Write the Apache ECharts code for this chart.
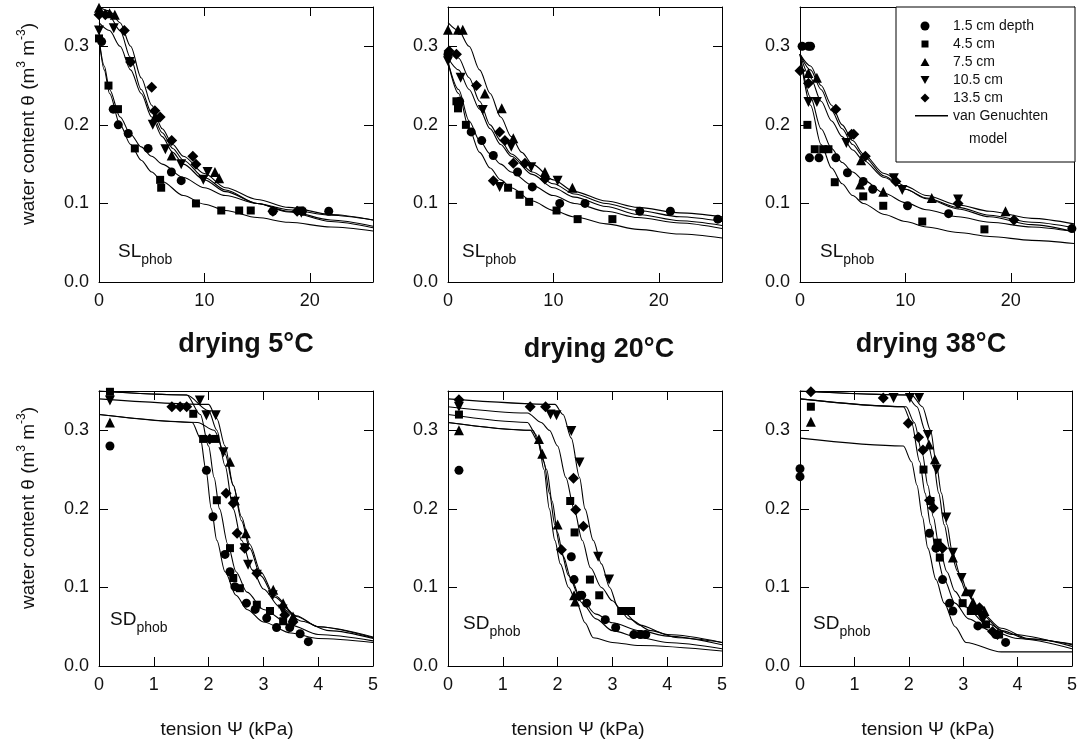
<!DOCTYPE html>
<html lang="en">
<head>
<meta charset="UTF-8">
<title>water retention curves</title>
<style>
  html, body { margin: 0; padding: 0; background: #fff; }
  #main { width: 1080px; height: 749px; }
</style>
</head>
<body>
<div id="main"></div>
<script src="https://cdn.jsdelivr.net/npm/echarts@6.0.0/dist/echarts.min.js"></script>
<script>
// depth classes, same order in every panel: circle, square, triangle, down-triangle, diamond
const depths = ['1.5 cm depth', '4.5 cm', '7.5 cm', '10.5 cm', '13.5 cm'];
const fitName = 'van Genuchten';
const titles = ['drying 5°C', 'drying 20°C', 'drying 38°C'];

// ---- SL phob, tension 0..26 kPa ----
const slPts5 = [
  [[0.25,0.306],[1.35,0.22],[1.83,0.20],[2.77,0.189],[4.66,0.17],[6.87,0.14],[7.8,0.129],[16.5,0.09],[19.3,0.09],[21.8,0.09]],
  [[0,0.31],[0.9,0.25],[1.8,0.22],[3.4,0.17],[5.8,0.13],[5.9,0.12],[9.2,0.10],[11.6,0.091],[13.3,0.091],[14.4,0.091],[19.1,0.091]],
  [[0,0.349],[1.0,0.342],[1.5,0.34],[5.3,0.21],[6.9,0.161],[11.0,0.14],[11.4,0.132]],
  [[0,0.32],[1.4,0.323],[2.9,0.28],[5.1,0.2],[6.3,0.169],[7.8,0.15],[9.9,0.13],[10.3,0.14],[19.2,0.088]],
  [[0,0.34],[0.6,0.34],[2.4,0.32],[3.0,0.28],[5.0,0.248],[5.3,0.218],[5.8,0.21],[6.9,0.18],[8.9,0.16],[9.2,0.15],[16.5,0.09],[18.8,0.09]]
];
const slFit5 = [
  [[0,0.35],[1,0.345],[2,0.33],[3,0.30],[4,0.26],[5,0.225],[6,0.195],[7,0.175],[8,0.16],[10,0.138],[12,0.12],[15,0.105],[18,0.095],[22,0.086],[26,0.079]],
  [[0,0.34],[1,0.338],[2,0.32],[3,0.285],[4,0.245],[5,0.215],[6,0.19],[7,0.17],[8,0.155],[10,0.133],[12,0.117],[15,0.1],[18,0.09],[22,0.079],[26,0.071]],
  [[0,0.33],[1,0.32],[2,0.30],[3,0.27],[4,0.24],[5,0.21],[6,0.185],[7,0.165],[8,0.15],[10,0.13],[12,0.115],[15,0.1],[18,0.089],[22,0.077],[26,0.069]],
  [[0,0.31],[0.5,0.275],[1,0.245],[2,0.21],[3,0.188],[4,0.172],[5,0.16],[6,0.15],[8,0.133],[10,0.12],[12,0.11],[15,0.1],[18,0.092],[22,0.085],[26,0.079]],
  [[0,0.31],[0.5,0.27],[1,0.24],[2,0.2],[3,0.175],[4,0.155],[5,0.14],[6,0.128],[8,0.11],[10,0.099],[12,0.091],[15,0.082],[18,0.076],[22,0.07],[26,0.065]]
];

const slPts20 = [
  [[0,0.29],[1.1,0.23],[2.2,0.191],[3.2,0.18],[4.3,0.161],[6.6,0.14],[8.0,0.121],[10.6,0.1],[13.0,0.1],[18.2,0.09],[21.1,0.09],[25.6,0.08]],
  [[0.8,0.23],[0.95,0.221],[1.7,0.2],[5.7,0.12],[6.8,0.111],[7.7,0.102],[10.3,0.091],[12.3,0.08],[15.6,0.08]],
  [[0,0.321],[0.95,0.321],[1.4,0.321],[3.5,0.24],[5.1,0.221],[6.2,0.183],[9.2,0.14],[11.8,0.12]],
  [[0,0.281],[1.2,0.26],[3.3,0.219],[4.9,0.121],[6.0,0.172],[7.9,0.146],[10.4,0.129]],
  [[0.1,0.294],[0.8,0.29],[2.7,0.25],[4.3,0.129],[4.9,0.191],[5.4,0.18],[6.2,0.151],[7.3,0.151],[9.2,0.131]]
];
const slFit20 = [
  [[0,0.33],[1,0.32],[2,0.3],[3,0.27],[4,0.24],[5,0.21],[6,0.185],[7,0.165],[8,0.15],[10,0.13],[12,0.115],[15,0.103],[18,0.095],[22,0.088],[26,0.083]],
  [[0,0.295],[1,0.285],[2,0.26],[3,0.23],[4,0.2],[5,0.18],[6,0.163],[8,0.14],[10,0.125],[12,0.112],[15,0.1],[18,0.091],[22,0.083],[26,0.077]],
  [[0,0.285],[1,0.27],[2,0.245],[3,0.22],[4,0.195],[5,0.175],[6,0.16],[8,0.137],[10,0.12],[12,0.108],[15,0.096],[18,0.086],[22,0.078],[26,0.072]],
  [[0,0.28],[1,0.245],[2,0.205],[3,0.18],[4,0.163],[5,0.15],[6,0.14],[8,0.123],[10,0.11],[12,0.1],[15,0.09],[18,0.082],[22,0.075],[26,0.068]],
  [[0,0.28],[1,0.24],[2,0.195],[3,0.165],[4,0.145],[5,0.13],[6,0.12],[8,0.103],[10,0.091],[12,0.083],[15,0.074],[18,0.067],[22,0.061],[26,0.056]]
];

const slPts38 = [
  [[0.2,0.3],[0.8,0.3],[1.0,0.3],[0.9,0.158],[1.8,0.158],[3.4,0.158],[4.5,0.139],[6.0,0.128],[6.9,0.118],[10.2,0.097],[14.1,0.087],[25.8,0.068]],
  [[0.7,0.2],[1.4,0.169],[2.2,0.169],[2.7,0.169],[3.3,0.127],[6.0,0.109],[7.9,0.097],[11.6,0.077],[17.5,0.067]],
  [[0.8,0.266],[1.6,0.26],[5.7,0.124],[5.8,0.155],[7.9,0.115],[12.5,0.107],[19.5,0.09]],
  [[0.8,0.229],[1.6,0.229],[4.4,0.177],[8.9,0.132],[9.7,0.117],[15.0,0.105]],
  [[0,0.269],[0.8,0.253],[3.4,0.22],[4.9,0.188],[5.1,0.188],[6.2,0.16],[9.1,0.128],[15.0,0.1],[20.3,0.079]]
];
const slFit38 = [
  [[0,0.29],[1,0.275],[2,0.25],[3,0.225],[4,0.2],[5,0.18],[6,0.163],[8,0.138],[10,0.122],[12,0.11],[15,0.098],[18,0.09],[22,0.081],[26,0.074]],
  [[0,0.29],[1,0.27],[2,0.245],[3,0.218],[4,0.195],[5,0.175],[6,0.16],[8,0.135],[10,0.118],[12,0.107],[15,0.095],[18,0.085],[22,0.076],[26,0.069]],
  [[0,0.29],[1,0.26],[2,0.23],[3,0.205],[4,0.185],[5,0.168],[6,0.155],[8,0.133],[10,0.118],[12,0.106],[15,0.093],[18,0.083],[22,0.073],[26,0.064]],
  [[0,0.29],[1,0.235],[2,0.195],[3,0.17],[4,0.152],[5,0.14],[6,0.13],[8,0.113],[10,0.101],[12,0.092],[15,0.083],[18,0.076],[22,0.07],[26,0.064]],
  [[0,0.29],[1,0.225],[2,0.175],[3,0.145],[4,0.125],[5,0.11],[6,0.1],[8,0.086],[10,0.077],[12,0.07],[15,0.063],[18,0.058],[22,0.053],[26,0.049]]
];

// ---- SD phob, tension 0..5 kPa ----
const sdPts5 = [
  [[0.2,0.28],[1.96,0.249],[2.08,0.19],[2.3,0.142],[2.39,0.12],[2.48,0.101],[2.69,0.08],[2.85,0.072],[3.06,0.061],[3.24,0.049],[3.48,0.049],[3.67,0.041],[3.82,0.031]],
  [[0.2,0.349],[1.72,0.321],[1.9,0.289],[2.12,0.289],[2.15,0.211],[2.39,0.15],[2.45,0.112],[2.57,0.099],[2.88,0.078],[3.12,0.07],[3.36,0.057]],
  [[0.2,0.31],[2.39,0.26],[2.48,0.211],[2.68,0.169],[3.18,0.097],[3.36,0.08],[3.54,0.063]],
  [[0.2,0.338],[1.84,0.338],[1.96,0.319],[2.13,0.319],[2.27,0.272],[2.48,0.209],[2.66,0.15],[2.72,0.129],[2.88,0.116],[3.17,0.09],[3.35,0.072]],
  [[1.33,0.33],[1.48,0.33],[1.6,0.33],[2.02,0.289],[2.32,0.22],[2.45,0.207],[2.52,0.169],[2.66,0.15],[2.88,0.118],[3.39,0.065],[3.54,0.056]]
];
const sdFit5 = [
  [[0,0.32],[1.7,0.31],[1.85,0.29],[1.95,0.25],[2.05,0.2],[2.15,0.16],[2.3,0.12],[2.5,0.09],[2.7,0.072],[3.0,0.056],[3.5,0.042],[4,0.035],[5,0.03]],
  [[0,0.35],[1.6,0.345],[1.85,0.32],[2.0,0.28],[2.1,0.24],[2.2,0.2],[2.35,0.155],[2.5,0.12],[2.7,0.094],[3.0,0.072],[3.5,0.052],[4,0.04],[5,0.032]],
  [[0,0.35],[1.6,0.345],[2.0,0.325],[2.15,0.3],[2.3,0.255],[2.45,0.2],[2.6,0.16],[2.8,0.122],[3.0,0.098],[3.3,0.075],[3.7,0.057],[4.2,0.045],[5,0.035]],
  [[0,0.34],[2.0,0.333],[2.15,0.315],[2.3,0.28],[2.45,0.23],[2.6,0.185],[2.75,0.15],[2.95,0.115],[3.2,0.088],[3.6,0.063],[4,0.05],[5,0.037]],
  [[0,0.32],[1.8,0.31],[2.1,0.3],[2.3,0.27],[2.45,0.23],[2.6,0.19],[2.75,0.155],[2.95,0.12],[3.2,0.09],[3.6,0.064],[4,0.05],[5,0.036]]
];

const sdPts20 = [
  [[0.2,0.249],[2.25,0.139],[2.3,0.11],[2.44,0.09],[2.53,0.08],[2.87,0.059],[3.06,0.049],[3.39,0.04],[3.51,0.04],[3.61,0.04]],
  [[0.2,0.32],[2.23,0.21],[2.31,0.17],[2.59,0.11],[2.76,0.09],[3.16,0.07],[3.25,0.07],[3.34,0.07]],
  [[0.2,0.3],[1.66,0.289],[1.72,0.27],[2.0,0.18],[2.3,0.09],[2.32,0.082]],
  [[0.2,0.33],[1.87,0.32],[1.98,0.319],[2.25,0.299],[2.4,0.259],[2.74,0.139],[2.94,0.11]],
  [[0.2,0.339],[1.5,0.33],[1.78,0.33],[2.07,0.148],[2.29,0.239],[2.33,0.199],[2.39,0.089],[2.47,0.178]]
];
const sdFit20 = [
  [[0,0.34],[1.95,0.333],[2.1,0.32],[2.25,0.29],[2.4,0.24],[2.5,0.2],[2.65,0.16],[2.8,0.13],[2.95,0.1],[3.1,0.075],[3.3,0.06],[3.7,0.045],[4.2,0.036],[5,0.03]],
  [[0,0.33],[1.45,0.322],[1.7,0.31],[1.85,0.3],[2.0,0.28],[2.15,0.24],[2.3,0.2],[2.45,0.16],[2.6,0.125],[2.8,0.1],[3.0,0.083],[3.2,0.068],[3.5,0.052],[4,0.04],[5,0.03]],
  [[0,0.32],[1.45,0.31],[1.6,0.295],[1.75,0.26],[1.85,0.22],[1.95,0.18],[2.05,0.15],[2.2,0.115],[2.4,0.088],[2.7,0.066],[3.0,0.055],[3.5,0.045],[4,0.038],[5,0.027]],
  [[0,0.31],[1.5,0.3],[1.65,0.285],[1.8,0.25],[1.9,0.21],[2.0,0.17],[2.1,0.14],[2.25,0.11],[2.45,0.08],[2.7,0.06],[3.0,0.045],[3.5,0.036],[4,0.03],[5,0.022]],
  [[0,0.31],[1.55,0.3],[1.65,0.285],[1.75,0.25],[1.85,0.2],[1.95,0.16],[2.05,0.13],[2.2,0.1],[2.35,0.08],[2.5,0.055],[2.65,0.036],[3.0,0.03],[3.5,0.026],[5,0.019]]
];

const sdPts38 = [
  [[0,0.251],[0,0.241],[2.38,0.169],[2.5,0.15],[2.62,0.11],[2.75,0.08],[2.81,0.07],[3.27,0.051],[3.6,0.04],[3.78,0.03]],
  [[0.2,0.33],[2.27,0.25],[2.4,0.21],[2.53,0.157],[2.57,0.138],[2.99,0.08],[3.14,0.07],[3.27,0.07],[3.42,0.053],[3.66,0.04]],
  [[0.2,0.311],[2.37,0.282],[2.48,0.263],[2.81,0.138],[3.05,0.095],[3.18,0.081],[3.39,0.07]],
  [[1.72,0.341],[2.02,0.341],[2.19,0.341],[2.35,0.294],[2.51,0.25],[2.69,0.189],[2.81,0.144],[2.97,0.112],[3.14,0.091],[3.36,0.059]],
  [[0.2,0.349],[1.53,0.341],[1.99,0.309],[2.18,0.291],[2.26,0.275],[2.38,0.211],[2.45,0.201],[2.57,0.153],[2.62,0.15],[3.3,0.074],[3.54,0.044],[3.63,0.04]]
];
const sdFit38 = [
  [[0,0.35],[2.05,0.345],[2.25,0.33],[2.4,0.3],[2.5,0.26],[2.6,0.22],[2.7,0.18],[2.8,0.145],[2.95,0.115],[3.1,0.09],[3.35,0.065],[3.7,0.045],[4.2,0.034],[5,0.028]],
  [[0,0.35],[1.95,0.345],[2.15,0.33],[2.3,0.3],[2.45,0.26],[2.55,0.22],[2.65,0.18],[2.75,0.15],[2.9,0.12],[3.05,0.095],[3.3,0.07],[3.7,0.048],[4.2,0.035],[5,0.027]],
  [[0,0.34],[1.95,0.33],[2.1,0.31],[2.25,0.27],[2.35,0.23],[2.45,0.19],[2.55,0.155],[2.7,0.12],[2.85,0.095],[3.05,0.075],[3.4,0.055],[3.9,0.04],[5,0.025]],
  [[0,0.34],[1.9,0.33],[2.05,0.31],[2.2,0.26],[2.3,0.22],[2.4,0.18],[2.5,0.145],[2.65,0.11],[2.85,0.08],[3.1,0.06],[3.5,0.045],[4,0.035],[5,0.022]],
  [[0,0.29],[1.9,0.28],[2.05,0.26],[2.15,0.23],[2.25,0.19],[2.35,0.15],[2.5,0.11],[2.65,0.08],[2.85,0.05],[3.05,0.03],[3.7,0.018],[5,0.018]]
];

const font = 'Liberation Sans, Arial, Helvetica, sans-serif';
const marks = [
  { symbol: 'circle', size: 9, rot: 0 },
  { symbol: 'rect', size: 8, rot: 0 },
  { symbol: 'triangle', size: 10, rot: 0 },
  { symbol: 'triangle', size: 10, rot: 180 },
  { symbol: 'diamond', size: 11, rot: 0 }
];
// legend icons drawn inside a 33x9 box (the two leading moves pin the box so shapes keep their aspect)
const box = 'path://M0,0M33,9';
const legendIcons = [
  box + 'M14.5,4.5A4.5,4.5 0 1 1 5.5,4.5A4.5,4.5 0 1 1 14.5,4.5Z',
  box + 'M6.5,1L13.5,1L13.5,8L6.5,8Z',
  box + 'M10,0.5L14.5,8.5L5.5,8.5Z',
  box + 'M5.5,0.5L14.5,0.5L10,8.5Z',
  box + 'M10,0L14.5,4.5L10,9L5.5,4.5Z',
  box + 'M0,3.6L33,3.6L33,5L0,5Z'
];

// layout of the six frames (pixels)
const panels = [
  { left: 99,  top: 7,   xMax: 26, xInt: 10, pts: slPts5,  fits: slFit5,  tag: 'SL', tagPos: [118, 252] },
  { left: 448, top: 7,   xMax: 26, xInt: 10, pts: slPts20, fits: slFit20, tag: 'SL', tagPos: [462, 252] },
  { left: 800, top: 7,   xMax: 26, xInt: 10, pts: slPts38, fits: slFit38, tag: 'SL', tagPos: [820, 252] },
  { left: 99,  top: 391, xMax: 5,  xInt: 1,  pts: sdPts5,  fits: sdFit5,  tag: 'SD', tagPos: [110, 620] },
  { left: 448, top: 391, xMax: 5,  xInt: 1,  pts: sdPts20, fits: sdFit20, tag: 'SD', tagPos: [463, 624] },
  { left: 800, top: 391, xMax: 5,  xInt: 1,  pts: sdPts38, fits: sdFit38, tag: 'SD', tagPos: [813, 624] }
];
const W = 274, H = 275;

function axisBase(gi) {
  return {
    type: 'value', gridIndex: gi,
    axisLine: { show: true, onZero: false, lineStyle: { color: '#000', width: 1 } },
    axisTick: { show: true, inside: true, length: 9, lineStyle: { color: '#000', width: 1 } },
    splitLine: { show: false }
  };
}

const grid = [], xAxis = [], yAxis = [], series = [];
panels.forEach((p, i) => {
  grid.push({ left: p.left, top: p.top, width: W, height: H });
  const lbl = { fontSize: 18, color: '#111', fontFamily: font, margin: 10 };
  xAxis.push(Object.assign(axisBase(i), {
    position: 'bottom', min: 0, max: p.xMax, interval: p.xInt,
    axisLabel: Object.assign({ showMaxLabel: p.xMax % p.xInt === 0 }, lbl)
  }));
  xAxis.push(Object.assign(axisBase(i), {
    position: 'top', min: 0, max: p.xMax, interval: p.xInt, axisLabel: { show: false }
  }));
  yAxis.push(Object.assign(axisBase(i), {
    position: 'left', min: 0, max: 0.35, interval: 0.1,
    axisLabel: Object.assign({ showMaxLabel: false, formatter: v => v.toFixed(1) }, lbl)
  }));
  yAxis.push(Object.assign(axisBase(i), {
    position: 'right', min: 0, max: 0.35, interval: 0.1, axisLabel: { show: false }
  }));

  p.fits.forEach(f => {
    series.push({
      type: 'line', name: fitName, xAxisIndex: 2 * i, yAxisIndex: 2 * i,
      data: f, symbol: 'none', showSymbol: false, smooth: 0.3, smoothMonotone: 'x',
      lineStyle: { color: '#000', width: 1.1 }, itemStyle: { color: '#000' }, z: 2, silent: true
    });
  });
  p.pts.forEach((d, k) => {
    series.push({
      type: 'scatter', name: depths[k], xAxisIndex: 2 * i, yAxisIndex: 2 * i,
      data: d, symbol: marks[k].symbol, symbolSize: marks[k].size, symbolRotate: marks[k].rot,
      itemStyle: { color: '#000', opacity: 1 }, clip: false, z: 3, silent: true
    });
  });
});

const graphic = [];
// y axis titles
[124, 508].forEach(cy => {
  graphic.push({
    type: 'text', x: 27, y: cy, rotation: Math.PI / 2,
    style: {
      text: '{a|water content θ (m}{s|3}{a| m}{s|-3}{a|)}',
      align: 'center', verticalAlign: 'middle',
      rich: {
        a: { fontSize: 19, fontFamily: font, fill: '#111', lineHeight: 22, verticalAlign: 'bottom' },
        s: { fontSize: 12, fontFamily: font, fill: '#111', lineHeight: 12, verticalAlign: 'top' }
      }
    }
  });
});
// x axis titles
[227, 578, 928].forEach(cx => {
  graphic.push({
    type: 'text', x: cx, y: 730,
    style: { text: 'tension Ψ (kPa)', align: 'center', verticalAlign: 'middle', fontSize: 19, fontFamily: font, fill: '#111' }
  });
});
// temperature headings
[[246, 345], [599, 350], [931, 345]].forEach((c, k) => {
  graphic.push({
    type: 'text', x: c[0], y: c[1],
    style: { text: titles[k], align: 'center', verticalAlign: 'middle', fontSize: 27, fontWeight: 'bold', fontFamily: font, fill: '#111' }
  });
});
// soil tags
panels.forEach(p => {
  graphic.push({
    type: 'text', x: p.tagPos[0], y: p.tagPos[1],
    style: {
      text: '{a|' + p.tag + '}{b|phob}', align: 'left', verticalAlign: 'middle',
      rich: {
        a: { fontSize: 19, fontFamily: font, fill: '#111', lineHeight: 20, verticalAlign: 'top' },
        b: { fontSize: 14, fontFamily: font, fill: '#111', lineHeight: 14, padding: [11, 0, 0, 0], verticalAlign: 'top' }
      }
    }
  });
});
// legend frame and second line of the model entry
graphic.push({
  type: 'rect', shape: { x: 896, y: 7, width: 179, height: 155 },
  style: { fill: '#fff', stroke: '#000', lineWidth: 1 }, z: 5
});
graphic.push({
  type: 'text', x: 969, y: 139, z: 6,
  style: { text: 'model', align: 'left', verticalAlign: 'middle', fontSize: 14, fontFamily: font, fill: '#111' }
});

const option = {
  animation: false,
  backgroundColor: '#fff',
  grid, xAxis, yAxis, series, graphic,
  legend: {
    orient: 'vertical', left: 915, top: 17, padding: 0, itemGap: 0,
    itemWidth: 33, itemHeight: 9, selectedMode: false, z: 10,
    textStyle: { fontSize: 14, lineHeight: 18, color: '#111', fontFamily: font },
    itemStyle: { color: '#000', opacity: 1, borderWidth: 0 },
    data: depths.concat([fitName]).map((n, k) => ({ name: n, icon: legendIcons[k] }))
  }
};

const myChart = echarts.init(document.getElementById('main'));
myChart.setOption(option);
</script>
</body>
</html>
